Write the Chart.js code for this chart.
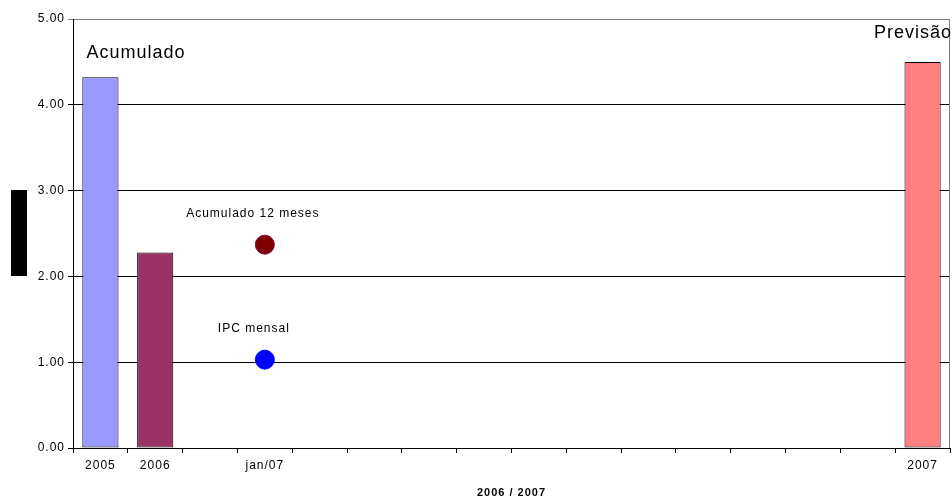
<!DOCTYPE html>
<html>
<head>
<meta charset="utf-8">
<style>
  html, body { margin: 0; padding: 0; background: #fff; }
  #wrap { width: 952px; height: 504px; }
</style>
<script src="https://cdn.jsdelivr.net/npm/chart.js@4/dist/chart.umd.min.js"></script>
</head>
<body>
<div id="wrap"><canvas id="c" width="952" height="504"></canvas></div>
<script>
// Periods on the category axis (months of 2007 not yet published stay blank)
const categories = ['2005', '2006', '', 'jan/07', '', '', '', '', '', '', '', '', '', '', '', '2007'];

// Accumulated inflation per year (%), 2007 is the forecast
const acumulado = [4.32, 2.28, null, null, null, null, null, null, null, null, null, null, null, null, null, 4.50];
const barColors = ['#9999FF', '#993366', null, null, null, null, null, null, null, null, null, null, null, null, null, '#FF8080'];

// Monthly figures for January 2007
const acumulado12m = [null, null, null, 2.37, null, null, null, null, null, null, null, null, null, null, null, null];
const ipcMensal = [null, null, null, 1.03, null, null, null, null, null, null, null, null, null, null, null, null];

const yTicks = [0, 1, 2, 3, 4, 5];

const FONT = 'Arial, "Liberation Sans", sans-serif';

const decor = {
  id: 'decor',
  beforeDraw(chart) {
    chart.ctx.letterSpacing = '1px';
  },
  afterDraw(chart) {
    const { ctx, chartArea, scales } = chart;
    const x = scales.x, y = scales.y;
    ctx.save();
    ctx.letterSpacing = '1px';
    // right border of the plot area
    ctx.strokeStyle = '#808080';
    ctx.lineWidth = 1;
    ctx.beginPath();
    ctx.moveTo(Math.round(chartArea.right) - 0.5, chartArea.top);
    ctx.lineTo(Math.round(chartArea.right) - 0.5, chartArea.bottom);
    ctx.stroke();

    // black block on the value-axis side
    ctx.fillStyle = '#000';
    ctx.fillRect(11, 190, 16, 86);

    ctx.fillStyle = '#000';
    ctx.textBaseline = 'middle';

    // section headings
    ctx.font = '18px ' + FONT;
    ctx.textAlign = 'left';
    ctx.fillText('Acumulado', x.getPixelForValue(0) - 14, y.getPixelForValue(acumulado[0]) - 24);
    ctx.textAlign = 'right';
    ctx.fillText('Previsão', chartArea.right + 2, y.getPixelForValue(acumulado[15]) - 29);

    // point captions
    ctx.font = '12px ' + FONT;
    ctx.textAlign = 'center';
    ctx.fillText('Acumulado 12 meses', x.getPixelForValue(3) - 12, y.getPixelForValue(acumulado12m[3]) - 31);
    ctx.fillText('IPC mensal', x.getPixelForValue(3) - 11, y.getPixelForValue(ipcMensal[3]) - 31);
    ctx.restore();
  }
};

new Chart(document.getElementById('c'), {
  type: 'bar',
  data: {
    labels: categories,
    datasets: [
      {
        type: 'line',
        label: 'Acumulado 12 meses',
        data: acumulado12m,
        showLine: false,
        pointRadius: 9.5,
        pointBackgroundColor: '#800000',
        pointBorderColor: '#800040',
        pointBorderWidth: 1,
        order: 0
      },
      {
        type: 'line',
        label: 'IPC mensal',
        data: ipcMensal,
        showLine: false,
        pointRadius: 9.5,
        pointBackgroundColor: '#0000FF',
        pointBorderColor: '#0000FF',
        pointBorderWidth: 1,
        order: 0
      },
      {
        label: 'Acumulado',
        data: acumulado,
        backgroundColor: barColors,
        borderColor: '#000',
        borderWidth: 1,
        borderSkipped: false,
        barPercentage: 0.66,
        categoryPercentage: 1,
        order: 1
      }
    ]
  },
  options: {
    responsive: false,
    animation: false,
    devicePixelRatio: 1,
    layout: { autoPadding: false, padding: { top: 19, right: 2, left: 0, bottom: 0 } },
    plugins: {
      legend: { display: false },
      tooltip: { enabled: false }
    },
    scales: {
      x: {
        offset: true,
        grid: {
          offset: true,
          drawOnChartArea: false,
          drawTicks: true,
          tickLength: 5,
          color: '#000'
        },
        border: { display: true, color: '#000', width: 1 },
        ticks: {
          autoSkip: false,
          maxRotation: 0,
          minRotation: 0,
          padding: 5,
          color: '#000',
          font: { family: FONT, size: 12 }
        },
        title: {
          display: true,
          text: '2006 / 2007',
          color: '#000',
          font: { family: FONT, size: 11, weight: 'bold' },
          padding: { top: 0, bottom: 4 }
        },
        afterFit(scale) {
          scale.height = 56;
          scale.paddingLeft = 0;
          scale.paddingRight = 0;
        }
      },
      y: {
        min: 0,
        max: 5,
        afterBuildTicks(scale) { scale.ticks = yTicks.map(v => ({ value: v })); },
        grid: {
          drawTicks: true,
          tickLength: 5,
          color: ctx => (ctx.tick && ctx.tick.value === 5) ? '#808080' : '#000',
          lineWidth: 1
        },
        border: { display: true, color: '#000', width: 1 },
        ticks: {
          padding: 3,
          color: '#000',
          font: { family: FONT, size: 12 },
          callback: v => Number(v).toFixed(2)
        },
        afterFit(scale) {
          scale.width = 73;
          scale.paddingTop = 0;
          scale.paddingBottom = 0;
        }
      }
    }
  },
  plugins: [decor]
});
</script>
</body>
</html>
